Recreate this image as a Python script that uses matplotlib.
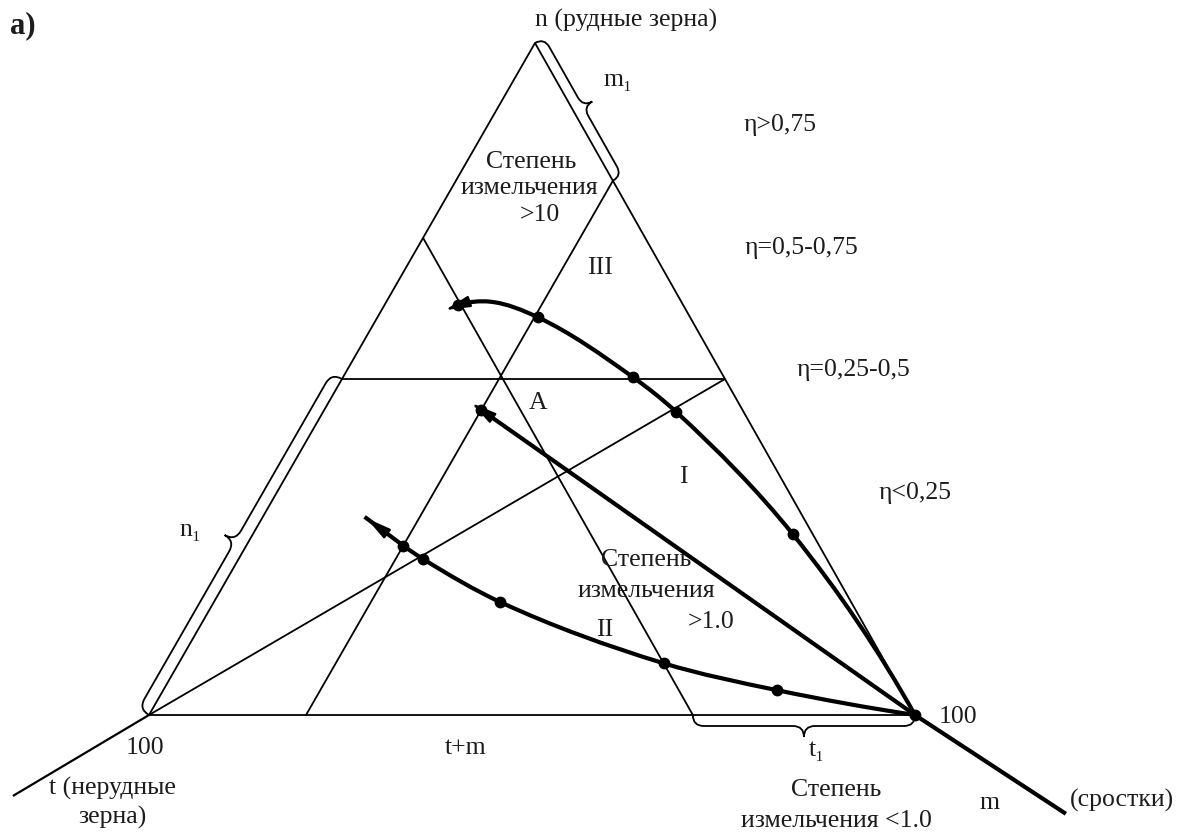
import numpy as np
import matplotlib.pyplot as plt
from matplotlib.path import Path
from matplotlib.patches import PathPatch

plt.rcParams['font.family'] = ['Liberation Serif', 'DejaVu Serif']

# triangle corners on the page (pixels): t = 100 at left, m = 100 at right, n = 100 at top
corner_t = (149, 715)
corner_m = (915, 715)
corner_n = (535, 43)

# grid lines, values in percent (m, n)
grid_n50 = [(0, 50), (50, 50)]
grid_diag = [(0, 0), (50, 50)]
grid_m20 = [(20.5, 0), (20.5, 79.5)]
grid_t29 = [(0, 71), (71, 0)]
axis_t = [(0, 0), (-11.7, -12.05)]
axis_m = [(100, 0), (127.1, -14.7)]

# paths of the grinding process, percent (m, n)
upper_m = [100, 70.5, 46.1, 37.8, 20.9, 13.6, 9.6]
upper_n = [0, 26.9, 45.1, 50.3, 59.2, 61.5, 61.0]
upper_dots = [1, 2, 3, 4, 6]
middle_m = [100, 20.5]
middle_n = [0, 45.4]
lower_m = [100, 80.1, 63.3, 37.4, 24.1, 20.5, 13.6]
lower_n = [0, 3.7, 7.7, 16.8, 23.2, 25.2, 29.3]
lower_dots = [0, 1, 2, 3, 4, 5]

TXT = '#1c1c1c'
FS = 18.5


def tern(m, n):
    m = np.asarray(m, float) / 100
    n = np.asarray(n, float) / 100
    x = corner_t[0] + m * (corner_m[0] - corner_t[0]) + n * (corner_n[0] - corner_t[0])
    y = corner_t[1] + m * (corner_m[1] - corner_t[1]) + n * (corner_n[1] - corner_t[1])
    return x, y


def unit(v):
    return v / np.hypot(*v)


def smooth_path(x, y):
    pts = np.column_stack([x, y]).astype(float)
    k = len(pts)
    tang = []
    for i in range(k):
        if 0 < i < k - 1:
            tang.append(unit(unit(pts[i + 1] - pts[i]) + unit(pts[i] - pts[i - 1])))
        else:
            tang.append(None)
    c = unit(pts[1] - pts[0])
    t1 = tang[1] if k > 2 else c
    tang[0] = 2 * np.dot(c, t1) * c - t1
    c = unit(pts[-1] - pts[-2])
    t1 = tang[-2] if k > 2 else c
    tang[-1] = 2 * np.dot(c, t1) * c - t1
    verts = [pts[0]]
    codes = [Path.MOVETO]
    for i in range(k - 1):
        d = np.hypot(*(pts[i + 1] - pts[i])) / 3
        verts += [pts[i] + tang[i] * d, pts[i + 1] - tang[i + 1] * d, pts[i + 1]]
        codes += [Path.CURVE4] * 3
    return Path(verts, codes)


def brace(ax, p1, p2, h, normal):
    p1 = np.array(p1, float)
    p2 = np.array(p2, float)
    L = np.hypot(*(p2 - p1))
    u = (p2 - p1) / L
    v = unit(np.array(normal, float))
    r = h / 2
    loc = [(0, 0), (0, r), (r, r), (L / 2 - r, r), (L / 2, r), (L / 2, h),
           (L / 2, r), (L / 2 + r, r), (L - r, r), (L, r), (L, 0)]
    codes = [Path.MOVETO, Path.CURVE3, Path.CURVE3, Path.LINETO, Path.CURVE3, Path.CURVE3,
             Path.CURVE3, Path.CURVE3, Path.LINETO, Path.CURVE3, Path.CURVE3]
    verts = [p1 + a * u + b * v for a, b in loc]
    ax.add_patch(PathPatch(Path(verts, codes), fill=False, lw=1.3, color='black'))


def seg(ax, pts, lw=1.3):
    m, n = zip(*pts)
    x, y = tern(m, n)
    ax.plot(x, y, color='black', lw=lw, solid_capstyle='butt')


def arrow_head(ax, tip, back):
    ax.annotate('', xy=tip, xytext=back,
                arrowprops=dict(arrowstyle='-|>,head_length=0.75,head_width=0.17',
                                color='black', lw=1.6, shrinkA=0, shrinkB=0,
                                mutation_scale=20))


fig = plt.figure(figsize=(11.79, 8.36), dpi=100)
ax = fig.add_axes([0, 0, 1, 1])
ax.set_xlim(0, 1179)
ax.set_ylim(836, 0)
ax.axis('off')

# triangle and grid
tri_x = [corner_t[0], corner_m[0], corner_n[0], corner_t[0]]
tri_y = [corner_t[1], corner_m[1], corner_n[1], corner_t[1]]
ax.plot(tri_x, tri_y, color='black', lw=1.3)
for g in (grid_n50, grid_diag, grid_m20, grid_t29):
    seg(ax, g)
seg(ax, axis_t, lw=1.6)
seg(ax, axis_m, lw=3.0)

# braces
brace(ax, corner_t, tern(0, 50), 24, (-0.868, -0.497))
brace(ax, corner_n, tern(20.5, 79.5), 21, (0.871, -0.492))
brace(ax, tern(71, 0), corner_m, 22, (0, 1))

# process curves
ux, uy = tern(upper_m, upper_n)
ax.add_patch(PathPatch(smooth_path(ux, uy), fill=False, lw=3.0, color='black'))
ax.plot(ux[upper_dots], uy[upper_dots], 'o', color='black', ms=7.5)
arrow_head(ax, (ux[-1] - 13, uy[-1] + 5), (ux[-1] + 4, uy[-1] - 1))

mx, my = tern(middle_m, middle_n)
ax.plot(mx, my, color='black', lw=3.0)
ax.plot(mx[-1], my[-1], 'o', color='black', ms=7.5)
dx, dy = mx[-1] - mx[0], my[-1] - my[0]
d = np.hypot(dx, dy)
arrow_head(ax, (mx[-1] + 12 * dx / d, my[-1] + 12 * dy / d), (mx[-1] - 4 * dx / d, my[-1] - 4 * dy / d))

lx, ly = tern(lower_m, lower_n)
ax.add_patch(PathPatch(smooth_path(lx[:-1], ly[:-1]), fill=False, lw=3.0, color='black'))
ax.plot(lx[lower_dots], ly[lower_dots], 'o', color='black', ms=7.5)
ax.plot(lx[-2:], ly[-2:], color='black', lw=3.0)
arrow_head(ax, (lx[-1], ly[-1]), (lx[-2], ly[-2]))

# labels
ax.text(10, 26, 'а)', fontsize=22, fontweight='bold', color=TXT, ha='left', va='center')
labels = [
    (626, 20, 'n (рудные зерна)'), (618, 80, 'm₁'), (780, 125, 'η>0,75'),
    (531, 162, 'Степень'), (529, 188, 'измельчения'), (540, 215, '>10'),
    (801, 248, 'η=0,5-0,75'), (600, 268, 'III'), (853, 370, 'η=0,25-0,5'),
    (538, 403, 'A'), (683, 477, 'I'), (915, 493, 'η<0,25'), (190, 530, 'n₁'),
    (646, 560, 'Степень'), (646, 591, 'измельчения'), (711, 622, '>1.0'),
    (605, 630, 'II'), (145, 748, '100'), (466, 748, 't+m'), (817, 750, 't₁'),
    (958, 717, '100'), (112, 788, 't (нерудные'), (112, 817, 'зерна)'),
    (836, 790, 'Степень'), (836, 821, 'измельчения <1.0'), (990, 803, 'm'),
    (1122, 800, '(сростки)'),
]
for x, y, s in labels:
    ax.text(x, y, s, fontsize=FS, color=TXT, ha='center', va='center')

fig.savefig('out.png', dpi=100)
